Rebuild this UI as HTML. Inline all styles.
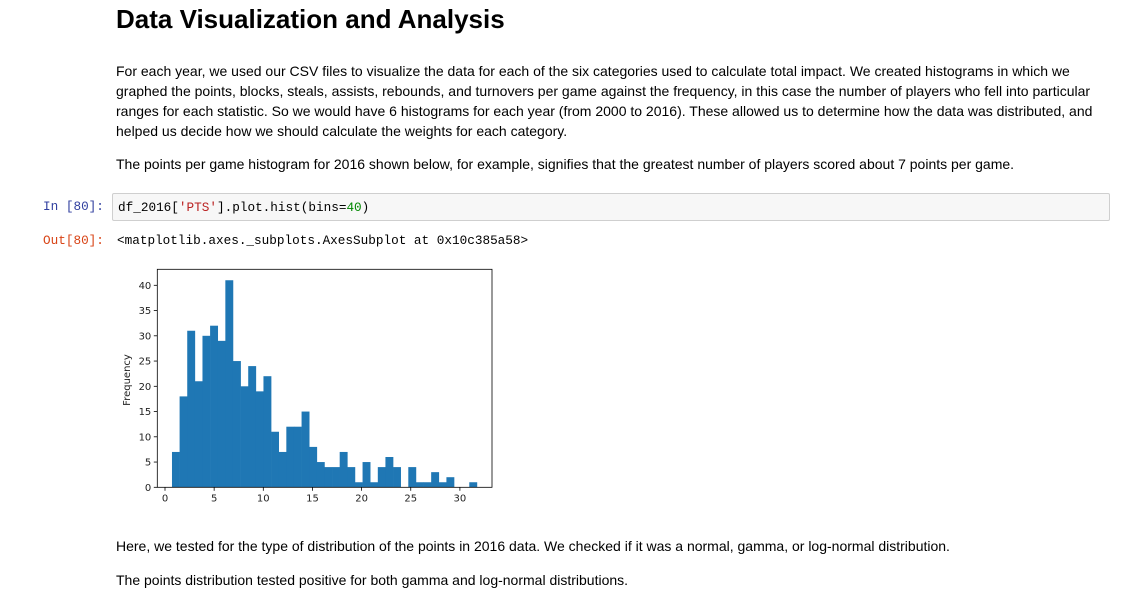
<!DOCTYPE html>
<html><head><meta charset="utf-8"><style>
body{margin:0;width:1146px;height:597px;background:#fff;font-family:"Liberation Sans",Arial,sans-serif;color:#000;position:relative;overflow:hidden}
.abs{position:absolute}
h1{position:absolute;left:116px;top:4px;margin:0;font-size:26px;font-weight:bold}
p{position:absolute;left:116px;margin:0;font-size:14px;line-height:20px;width:985px;color:#000}
.mono{font-family:"Liberation Mono",monospace;font-size:12.7px}
</style></head><body>
<h1>Data Visualization and Analysis</h1>
<p style="top:61px">For each year, we used our CSV files to visualize the data for each of the six categories used to calculate total impact. We created histograms in which we graphed the points, blocks, steals, assists, rebounds, and turnovers per game against the frequency, in this case the number of players who fell into particular ranges for each statistic. So we would have 6 histograms for each year (from 2000 to 2016). These allowed us to determine how the data was distributed, and helped us decide how we should calculate the weights for each category.</p>
<p style="top:154px">The points per game histogram for 2016 shown below, for example, signifies that the greatest number of players scored about 7 points per game.</p>
<div class="abs mono" style="left:43px;top:199px;color:#303f9f">In [80]:</div>
<div class="abs mono" style="left:112px;top:193px;width:998px;height:28px;background:#f7f7f7;border:1px solid #cfcfcf;border-radius:2px;box-sizing:border-box;padding:6px 5px;">df_2016[<span style="color:#ba2121">'PTS'</span>].plot.hist(bins=<span style="color:#080">40</span>)</div>
<div class="abs mono" style="left:43px;top:233px;color:#d84315">Out[80]:</div>
<div class="abs mono" style="left:117px;top:233px">&lt;matplotlib.axes._subplots.AxesSubplot at 0x10c385a58&gt;</div>
<svg class="abs" style="left:0;top:0" width="1146" height="597" id="chart"></svg>
<p style="top:536px">Here, we tested for the type of distribution of the points in 2016 data. We checked if it was a normal, gamma, or log-normal distribution.</p>
<p style="top:570px">The points distribution tested positive for both gamma and log-normal distributions.</p>
<script>
const counts=[7,18,31,21,30,32,29,41,25,20,24,19,22,11,7,12,12,15,8,5,4,4,7,4,1,5,1,4,6,4,0,4,1,1,3,1,2,0,0,1];
const binMin=0.71, binMax=31.73;
const xTicks=[0,5,10,15,20,25,30];
const yTicks=[0,5,10,15,20,25,30,35,40];
const NS="http://www.w3.org/2000/svg";
const svg=document.getElementById('chart');
const L=157.3,R=492,T=269.3,B=487.3;
const xs=v=>165+v*9.83;
const ys=v=>B-v*5.05;
function mk(t,a){const e=document.createElementNS(NS,t);for(const k in a)e.setAttribute(k,a[k]);svg.appendChild(e);return e;}
const w=(binMax-binMin)/counts.length;
counts.forEach((c,i)=>{
  const x0=xs(binMin+i*w),x1=xs(binMin+(i+1)*w);
  const r=mk('rect',{x:x0,y:ys(c),width:x1-x0+0.3,height:B-ys(c),fill:'#1f77b4'});
  
  
});
const ax=mk('rect',{x:L,y:T,width:R-L,height:B-T,fill:'none',stroke:'#000','stroke-width':0.8});


xTicks.forEach(v=>{
  mk('line',{x1:xs(v),x2:xs(v),y1:B,y2:B+3.5,stroke:'#000','stroke-width':0.8});
  const t=mk('text',{x:xs(v),y:B+14,'font-size':10,'text-anchor':'middle','font-family':'DejaVu Sans,sans-serif',fill:'#222'});
  t.textContent=v;
  
  
});
yTicks.forEach(v=>{
  mk('line',{x1:L-3.5,x2:L,y1:ys(v),y2:ys(v),stroke:'#000','stroke-width':0.8});
  const t=mk('text',{x:L-6,y:ys(v)+3.5,'font-size':10,'text-anchor':'end','font-family':'DejaVu Sans,sans-serif',fill:'#222'});
  t.textContent=v;
  
  
});
const yl=mk('text',{x:0,y:0,'font-size':10,'text-anchor':'middle','font-family':'DejaVu Sans,sans-serif',fill:'#222',transform:'translate(130,380) rotate(-90)'});
yl.textContent='Frequency';


</script>
</body></html>
